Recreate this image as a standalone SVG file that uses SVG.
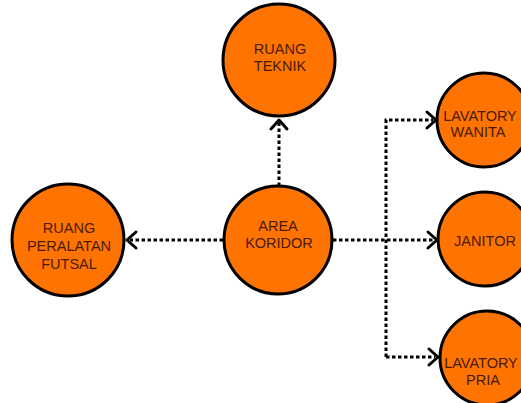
<svg xmlns="http://www.w3.org/2000/svg" width="521" height="403" viewBox="0 0 521 403">
<style>
.n{fill:#ff7300;stroke:#000;stroke-width:3}
.t{font-family:"Liberation Sans",Arial,sans-serif;font-size:14.5px;fill:#4a1a06;text-anchor:middle}
.c{fill:none;stroke:#000;stroke-width:3;stroke-dasharray:3.5 2.5}
.a{fill:none;stroke:#000;stroke-width:3;stroke-linecap:round;stroke-linejoin:round}
</style>
<rect width="521" height="403" fill="#fff"/>
<g id="connectors">
<path class="c" d="M279 186V122"/>
<path class="c" d="M223 240H130"/>
<path class="c" d="M333 240H433"/>
<path class="c" d="M386 357V120H433"/>
<path class="c" d="M386 357H435"/>
<path class="a" d="M271 129L279 120L287 129"/>
<path class="a" d="M136 232L127 240L136 248"/>
<path class="a" d="M428 232L437 240L428 248"/>
<path class="a" d="M427 112L436 120L427 128"/>
<path class="a" d="M429 349L438 357L429 365"/>
</g>
<g id="ruang-teknik"><circle class="n" cx="279" cy="60" r="56"/><text class="t" x="280" y="54">RUANG</text><text class="t" x="280" y="71">TEKNIK</text></g>
<g id="area-koridor"><circle class="n" cx="278" cy="240" r="54"/><text class="t" x="278" y="231">AREA</text><text class="t" x="279" y="248">KORIDOR</text></g>
<g id="ruang-peralatan-futsal"><circle class="n" cx="68" cy="240" r="56"/><text class="t" x="69" y="233">RUANG</text><text class="t" x="69" y="251">PERALATAN</text><text class="t" x="69" y="269">FUTSAL</text></g>
<g id="lavatory-wanita"><circle class="n" cx="484" cy="120" r="47"/><text class="t" x="480" y="121">LAVATORY</text><text class="t" x="478" y="137">WANITA</text></g>
<g id="janitor"><circle class="n" cx="485" cy="239" r="47"/><text class="t" x="485" y="246">JANITOR</text></g>
<g id="lavatory-pria"><circle class="n" cx="487" cy="358" r="47"/><text class="t" x="481" y="368">LAVATORY</text><text class="t" x="483" y="385">PRIA</text></g>
</svg>
